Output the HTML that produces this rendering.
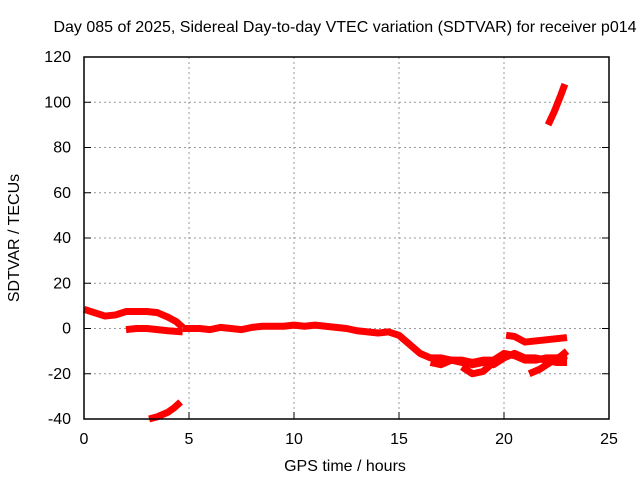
<!DOCTYPE html>
<html><head><meta charset="utf-8"><style>
html,body{margin:0;padding:0;background:#fff;}
svg{display:block;font-family:"Liberation Sans",sans-serif;}
</style></head><body>
<svg id="chart" width="640" height="480">
<text x="345" y="32" font-size="16" text-anchor="middle">Day 085 of 2025, Sidereal Day-to-day VTEC variation (SDTVAR) for receiver p014</text>
<g id="grid"></g>
<g id="series"></g>
<rect x="84" y="57" width="525" height="362" fill="none" stroke="#000" stroke-width="1.5"/>
<g id="ticks"></g>
<text x="345" y="471" font-size="16" text-anchor="middle">GPS time / hours</text>
<text transform="translate(19,238) rotate(-90)" font-size="16" text-anchor="middle">SDTVAR / TECUs</text>
</svg>
<script>
const xTicks=[0,5,10,15,20,25];
const yTicks=[-40,-20,0,20,40,60,80,100,120];
const seriesTop=[[0,8.5],[0.5,7],[1,5.5],[1.5,6],[2,7.5],[2.5,7.5],[3,7.5],[3.5,7],[4,5],[4.4,3],[4.7,0.5]];
const seriesLow=[[2,-0.5],[2.5,0],[3,0],[3.5,-0.5],[4,-1],[4.7,-1.5]];
const seriesMid=[[4.7,0],[5,0],[5.5,0],[6,-0.5],[6.5,0.5],[7,0],[7.5,-0.5],[8,0.5],[8.5,1],[9,1],[9.5,1],[10,1.5],[10.5,1],[11,1.5],[11.5,1],[12,0.5],[12.5,0],[13,-1],[13.5,-1.5],[14,-2],[14.5,-1.5],[15,-3],[15.5,-7],[16,-11],[16.5,-13],[17,-13],[17.5,-14],[18,-14],[18.5,-15],[19,-14],[19.5,-14],[20,-11],[20.5,-12],[21,-14],[21.5,-14],[22,-13],[22.5,-13],[23,-12]];
const seriesMid2=[[16.5,-15],[17,-16],[17.5,-14],[18,-15],[18.5,-16],[19,-15],[19.5,-16],[20,-13],[20.5,-11],[21,-13],[21.5,-13],[22,-14],[22.5,-15],[23,-15]];
const seriesBot=[[18,-17],[18.5,-20],[19,-19],[19.5,-15]];
const seriesD=[[20.1,-3],[20.5,-3.5],[21,-6],[21.5,-5.5],[22,-5],[22.5,-4.5],[23,-4]];
const seriesE=[[21.2,-20],[21.7,-18],[22.2,-15],[22.6,-13],[23,-10]];
const seriesF=[[3.1,-40],[3.5,-39],[4,-37],[4.3,-35],[4.6,-32.5]];
const seriesG=[[22.1,90],[22.4,96],[22.7,103],[22.9,108]];
const allSeries=[seriesTop,seriesLow,seriesMid,seriesMid2,seriesBot,seriesD,seriesE,seriesF,seriesG];
const NS="http://www.w3.org/2000/svg";
function xs(v){return 84+v*21;}
function ys(v){return 419-(v+40)*362/160;}
const grid=document.getElementById('grid'),ticks=document.getElementById('ticks'),ser=document.getElementById('series');
function mk(tag,attrs,parent){const e=document.createElementNS(NS,tag);for(const k in attrs)e.setAttribute(k,attrs[k]);parent.appendChild(e);return e;}
xTicks.forEach(t=>{
 if(t>0&&t<25){const l=mk('line',{x1:xs(t),x2:xs(t),y1:57,y2:419,stroke:'#999','stroke-dasharray':'2,3'},grid);
 
 
 const tm=mk('line',{x1:xs(t),x2:xs(t),y1:419,y2:412,stroke:'#000'},ticks);
 
 }
 const tx=mk('text',{x:xs(t),y:444,'font-size':'16','text-anchor':'middle'},ticks);
 tx.textContent=t;
 
 
});
yTicks.forEach(t=>{
 if(t>-40&&t<120){const l=mk('line',{x1:84,x2:609,y1:ys(t),y2:ys(t),stroke:'#999','stroke-dasharray':'2,3'},grid);
 
 
 const tm=mk('line',{x1:84,x2:91,y1:ys(t),y2:ys(t),stroke:'#000'},ticks);
 
 
 const tm2=mk('line',{x1:602,x2:609,y1:ys(t),y2:ys(t),stroke:'#000'},ticks);
 
 }
 const tx=mk('text',{x:71,y:ys(t)+5,'font-size':'16','text-anchor':'end'},ticks);
 tx.textContent=t;
 
 
});
allSeries.forEach(s=>{
 const p=mk('polyline',{points:s.map(d=>xs(d[0])+','+ys(d[1])).join(' '),fill:'none',stroke:'#f00','stroke-width':'7','stroke-linejoin':'round'},ser);
 
 
});
</script>
</body></html>
